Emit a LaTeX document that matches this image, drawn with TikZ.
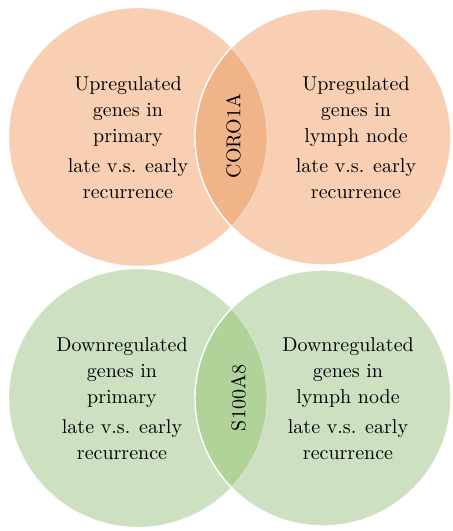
\documentclass[tikz,border=0pt]{standalone}
\usepackage{tikz}

\definecolor{peachlight}{RGB}{248,207,178}
\definecolor{peachdark}{RGB}{241,180,136}
\definecolor{greenlight}{RGB}{205,224,193}
\definecolor{greendark}{RGB}{177,210,152}

\begin{document}
\begin{tikzpicture}[x=0.5pt,y=0.5pt]
\tikzset{every node/.style={inner sep=0pt}}
\tikzset{setlabel/.style={align=center,font=\fontsize{10}{13}\selectfont}}
\tikzset{genelabel/.style={rotate=90,font=\fontsize{10}{12}\selectfont}}
\useasboundingbox (0,0) rectangle (452,-531);
% upregulated
\fill [peachlight] (138,-137) circle (129);
\fill [peachlight] (323,-137) circle (128);
\begin{scope}
\clip (138,-137) circle (129);
\fill [peachdark] (323,-137) circle (128);
\end{scope}
\draw [white,line width=0.7pt] (323,-137) circle (128);
\draw [white,line width=0.4pt,opacity=0.4] (138,-137) circle (129);
\node [setlabel] (upPrim) at (128,-138) {Upregulated\\genes in\\primary\\[2pt]late v.s. early\\recurrence};
\node [setlabel] (upLymph) at (356,-138) {Upregulated\\genes in\\lymph node\\[2pt]late v.s. early\\recurrence};
\node [genelabel] (upGene) at (233.5,-136) {CORO1A};
% downregulated
\fill [greenlight] (138,-398) circle (129);
\fill [greenlight] (323,-398) circle (128);
\begin{scope}
\clip (138,-398) circle (129);
\fill [greendark] (323,-398) circle (128);
\end{scope}
\draw [white,line width=0.7pt] (323,-398) circle (128);
\draw [white,line width=0.4pt,opacity=0.4] (138,-398) circle (129);
\node [setlabel] (downPrim) at (122,-399) {Downregulated\\genes in\\primary\\[2pt]late v.s. early\\recurrence};
\node [setlabel] (downLymph) at (348,-399) {Downregulated\\genes in\\lymph node\\[2pt]late v.s. early\\recurrence};
\node [genelabel] (downGene) at (238.5,-398) {S100A8};
\end{tikzpicture}
\end{document}
